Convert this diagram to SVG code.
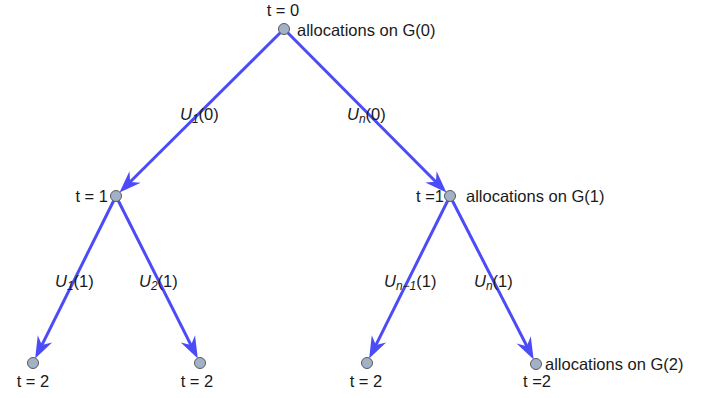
<svg xmlns="http://www.w3.org/2000/svg" width="715" height="398" viewBox="0 0 715 398">
<style>
text{font-family:"Liberation Sans",Arial,sans-serif;font-size:16.5px;fill:#1a1a1a}
.i{font-style:italic}
.s{font-size:12px;font-style:italic}
.e{stroke:#4b4bf7;stroke-width:3;fill:none;marker-end:url(#ah)}
.n{fill:#a3b1c6;stroke:#5a5a5a;stroke-width:1}
</style>
<defs>
<marker id="ah" markerUnits="userSpaceOnUse" viewBox="-24 -10 26 20" markerWidth="26" markerHeight="20" refX="-12" refY="0" orient="auto">
<path d="M0,0 L-22,-8 L-15,0 L-22,8 Z" fill="#4b4bf7"/>
</marker>
</defs>
<rect width="715" height="398" fill="#fff"/>
<g id="connectors">
<line class="e" x1="280.5" y1="32.5" x2="128" y2="184"/>
<line class="e" x1="287.5" y1="32.5" x2="438" y2="184"/>
<line class="e" x1="113.8" y1="200.5" x2="40.5" y2="347.8"/>
<line class="e" x1="118.2" y1="200.5" x2="192.4" y2="347.8"/>
<line class="e" x1="447.8" y1="200.5" x2="374.5" y2="347.8"/>
<line class="e" x1="452.3" y1="200.5" x2="528.2" y2="348.8"/>
<text x="180" y="120"><tspan class="i">U</tspan><tspan class="s" dy="3">1</tspan><tspan dy="-3">(0)</tspan></text>
<text x="347" y="120"><tspan class="i">U</tspan><tspan class="s" dy="3">n</tspan><tspan dy="-3">(0)</tspan></text>
<text x="55" y="287"><tspan class="i">U</tspan><tspan class="s" dy="3">1</tspan><tspan dy="-3">(1)</tspan></text>
<text x="139" y="287"><tspan class="i">U</tspan><tspan class="s" dy="3">2</tspan><tspan dy="-3">(1)</tspan></text>
<text x="384" y="287"><tspan class="i">U</tspan><tspan class="s" dy="3">n−1</tspan><tspan dy="-3">(1)</tspan></text>
<text x="474" y="287"><tspan class="i">U</tspan><tspan class="s" dy="3">n</tspan><tspan dy="-3">(1)</tspan></text>
</g>
<g id="root">
<circle class="n" cx="284" cy="29" r="5.5"/>
<text x="283" y="16" text-anchor="middle">t = 0</text>
<text x="297" y="36">allocations on G(0)</text>
</g>
<g id="n1a">
<circle class="n" cx="116" cy="196" r="5.5"/>
<text x="108" y="202" text-anchor="end">t = 1</text>
</g>
<g id="n1b">
<circle class="n" cx="450" cy="196" r="5.5"/>
<text x="444" y="202" text-anchor="end">t =1</text>
<text x="466" y="202">allocations on G(1)</text>
</g>
<g id="n2a">
<circle class="n" cx="33" cy="363" r="5.5"/>
<text x="33" y="387" text-anchor="middle">t = 2</text>
</g>
<g id="n2b">
<circle class="n" cx="200" cy="363" r="5.5"/>
<text x="197" y="387" text-anchor="middle">t = 2</text>
</g>
<g id="n2c">
<circle class="n" cx="367" cy="363" r="5.5"/>
<text x="366" y="387" text-anchor="middle">t = 2</text>
</g>
<g id="n2d">
<circle class="n" cx="536" cy="364" r="5.5"/>
<text x="537" y="387" text-anchor="middle">t =2</text>
<text x="545" y="370">allocations on G(2)</text>
</g>
</svg>
